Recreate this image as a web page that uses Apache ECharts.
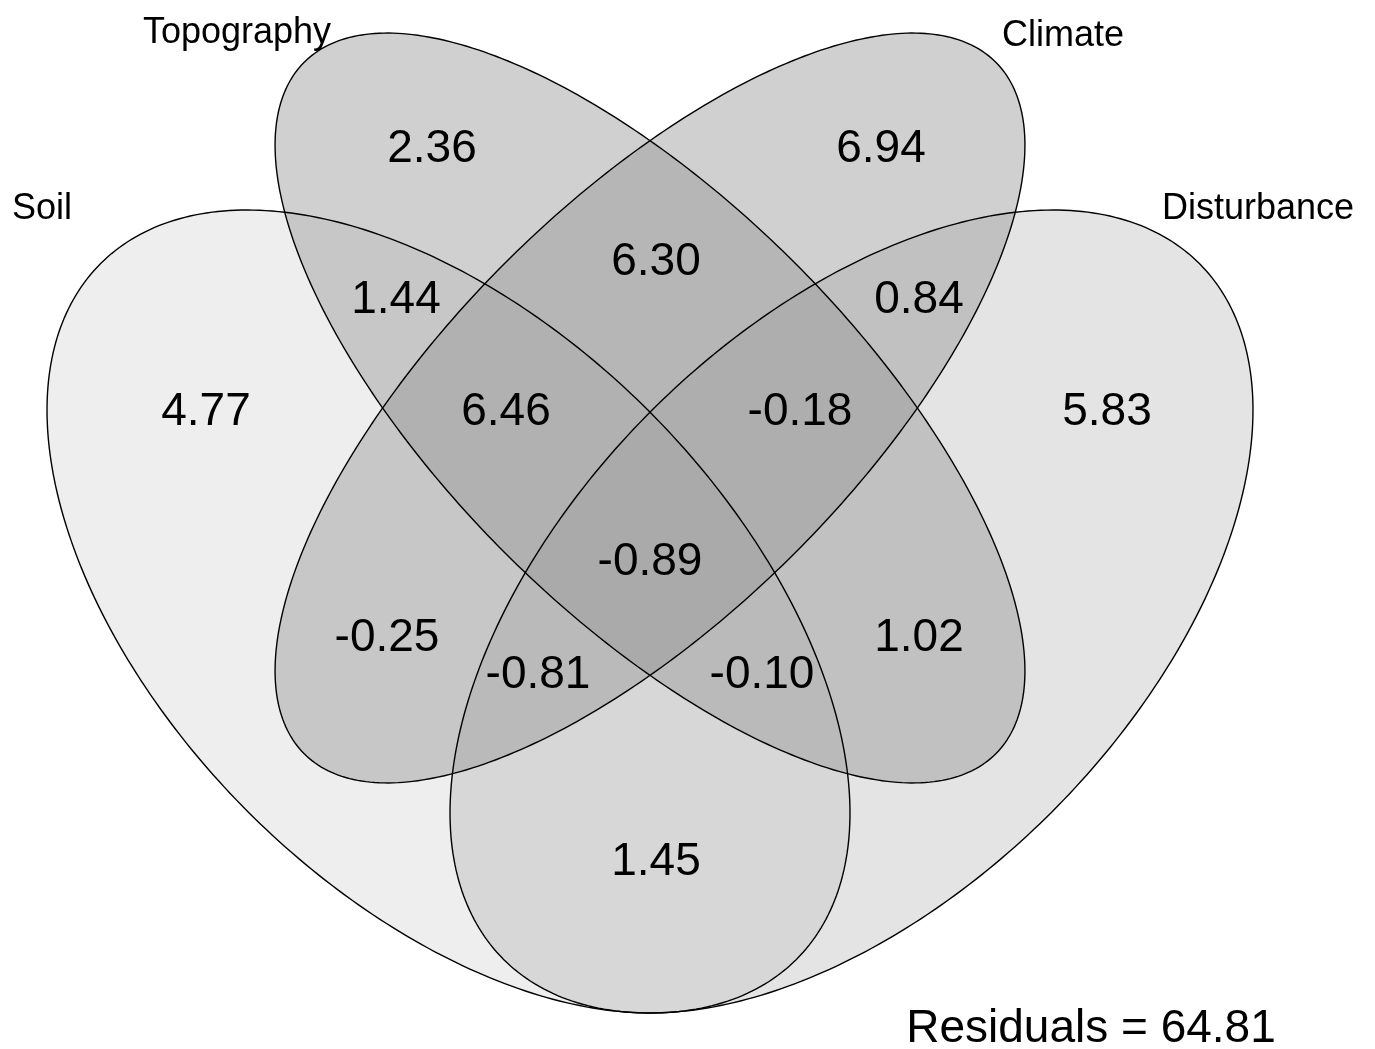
<!DOCTYPE html>
<html>
<head>
<meta charset="utf-8">
<title>Variation partitioning</title>
<script src="https://cdn.jsdelivr.net/npm/echarts@6/dist/echarts.min.js"></script>
<style>
  html, body { margin: 0; padding: 0; background: #ffffff; }
  #chart { width: 1375px; height: 1049px; }
</style>
</head>
<body>
<div id="chart"></div>
<script>
// ---- data -------------------------------------------------------------
// Explanatory groups, drawn as four overlapping ellipses
const setNames = ['Soil', 'Topography', 'Climate', 'Disturbance'];

// Fractions of explained variation (%), one per Venn region,
// keyed by the groups that share the region
const regionKeys   = ['S', 'T', 'C', 'D', 'ST', 'TC', 'CD', 'STC', 'TCD', 'STCD', 'SC', 'TD', 'SCD', 'STD', 'SD'];
const regionValues = [4.77, 2.36, 6.94, 5.83, 1.44, 6.30, 0.84, 6.46, -0.18, -0.89, -0.25, 1.02, -0.81, -0.10, 1.45];

const residualValue = 64.81;

// ---- layout (plot units; y grows downward) -----------------------------
// ellipse geometry: centre x, centre y, semi-major, semi-minor, rotation (deg)
const ellipseGeometry = [
  [448.5, 611.5, 492, 283.4,  45],   // Soil
  [650.0, 408.0, 489, 205.0,  45],   // Topography
  [650.0, 408.0, 489, 205.0, -45],   // Climate
  [851.5, 611.5, 492, 283.4, -45]    // Disturbance
];
const ellipseOpacity = [0.16, 0.45, 0.45, 0.26];

// anchor of each region label, in the order of regionKeys
const regionAnchors = [
  [206, 412], [432, 149], [881, 149], [1107, 412],
  [396, 300], [656, 262], [919, 300],
  [506, 412], [800, 412], [650, 562],
  [387, 638], [919, 638], [538, 675], [762, 675],
  [656, 862]
];
const setNameAnchors = [[42, 209], [237, 33], [1063, 36], [1258, 209]];
const residualAnchor = [1091, 1029];

const FONT = '"Liberation Sans", Arial, Helvetica, sans-serif';

function fmt(v) { return v.toFixed(2); }

const chart = echarts.init(document.getElementById('chart'), null, { renderer: 'canvas' });

function ellipsePoints(api, cx, cy, a, b, deg) {
  const t = deg * Math.PI / 180, ct = Math.cos(t), st = Math.sin(t);
  const pts = [];
  for (let i = 0; i < 360; i++) {
    const p = i * Math.PI / 180;
    const u = a * Math.cos(p), v = b * Math.sin(p);
    pts.push(api.coord([cx + u * ct - v * st, cy + u * st + v * ct]));
  }
  return pts;
}

const ellipseData = ellipseGeometry.map((g, i) => ({ name: setNames[i], value: g }));

const labelData = regionKeys.map((k, i) => ({
  name: k, value: [regionAnchors[i][0], regionAnchors[i][1], regionValues[i]]
}));

chart.setOption({
  animation: false,
  backgroundColor: '#ffffff',
  grid: { left: 0, right: 0, top: 0, bottom: 0, containLabel: false },
  xAxis: { type: 'value', min: 0, max: 1375, show: false },
  yAxis: { type: 'value', min: 0, max: 1049, inverse: true, show: false },
  series: [
    {
      // filled ellipses
      type: 'custom',
      coordinateSystem: 'cartesian2d',
      z: 1,
      silent: true,
      data: ellipseData,
      encode: { x: 0, y: 1 },
      renderItem: function (params, api) {
        const i = params.dataIndex;
        return {
          type: 'polygon',
          shape: { points: ellipsePoints(api, api.value(0), api.value(1), api.value(2), api.value(3), api.value(4)) },
          style: { fill: 'rgba(150,150,150,' + ellipseOpacity[i] + ')', stroke: null }
        };
      }
    },
    {
      // ellipse outlines
      type: 'custom',
      coordinateSystem: 'cartesian2d',
      z: 2,
      silent: true,
      data: ellipseData,
      encode: { x: 0, y: 1 },
      renderItem: function (params, api) {
        return {
          type: 'polygon',
          shape: { points: ellipsePoints(api, api.value(0), api.value(1), api.value(2), api.value(3), api.value(4)) },
          style: { fill: null, stroke: '#000000', lineWidth: 1.4 }
        };
      }
    },
    {
      // region values
      type: 'custom',
      coordinateSystem: 'cartesian2d',
      z: 3,
      silent: true,
      data: labelData,
      encode: { x: 0, y: 1 },
      renderItem: function (params, api) {
        const p = api.coord([api.value(0), api.value(1)]);
        return {
          type: 'text',
          x: p[0], y: p[1],
          style: {
            text: fmt(api.value(2)),
            fill: '#000000',
            fontSize: 46, fontFamily: FONT,
            align: 'center', verticalAlign: 'middle'
          }
        };
      }
    },
    {
      // group names
      type: 'custom',
      coordinateSystem: 'cartesian2d',
      z: 3,
      silent: true,
      data: setNames.map((n, i) => ({ name: n, value: setNameAnchors[i] })),
      encode: { x: 0, y: 1 },
      renderItem: function (params, api) {
        const p = api.coord([api.value(0), api.value(1)]);
        return {
          type: 'text',
          x: p[0], y: p[1],
          style: {
            text: setNames[params.dataIndex],
            fill: '#000000',
            fontSize: 36, fontFamily: FONT,
            align: 'center', verticalAlign: 'middle'
          }
        };
      }
    },
    {
      // residual variation
      type: 'custom',
      coordinateSystem: 'cartesian2d',
      z: 3,
      silent: true,
      data: [{ name: 'Residuals', value: [residualAnchor[0], residualAnchor[1], residualValue] }],
      encode: { x: 0, y: 1 },
      renderItem: function (params, api) {
        const p = api.coord([api.value(0), api.value(1)]);
        return {
          type: 'text',
          x: p[0], y: p[1],
          style: {
            text: 'Residuals = ' + fmt(api.value(2)),
            fill: '#000000',
            fontSize: 46, fontFamily: FONT,
            align: 'center', verticalAlign: 'middle'
          }
        };
      }
    }
  ]
});
</script>
</body>
</html>
